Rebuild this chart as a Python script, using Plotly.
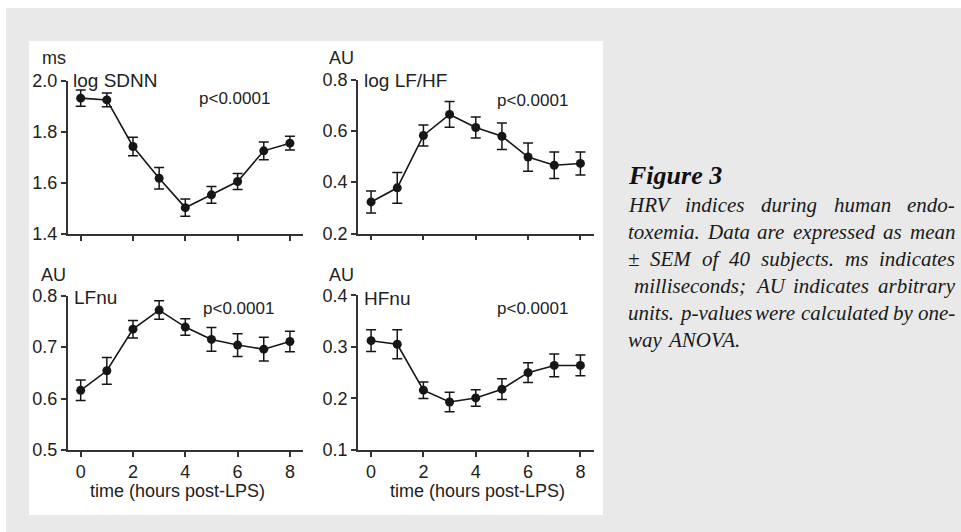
import plotly.graph_objects as go

# ---------------- data ----------------
hours = [0, 1, 2, 3, 4, 5, 6, 7, 8]

sdnn_mean = [1.931, 1.924, 1.742, 1.618, 1.503, 1.553, 1.605, 1.725, 1.755]
sdnn_sem = [0.032, 0.027, 0.036, 0.042, 0.034, 0.033, 0.031, 0.035, 0.027]

lfhf_mean = [0.323, 0.378, 0.582, 0.664, 0.613, 0.579, 0.498, 0.466, 0.473]
lfhf_sem = [0.043, 0.060, 0.041, 0.050, 0.041, 0.052, 0.055, 0.052, 0.045]

lfnu_mean = [0.616, 0.654, 0.735, 0.772, 0.739, 0.715, 0.704, 0.696, 0.711]
lfnu_sem = [0.020, 0.026, 0.017, 0.018, 0.016, 0.023, 0.022, 0.023, 0.020]

hfnu_mean = [0.312, 0.305, 0.216, 0.193, 0.201, 0.218, 0.250, 0.264, 0.264]
hfnu_sem = [0.021, 0.028, 0.016, 0.019, 0.016, 0.020, 0.019, 0.022, 0.020]

panel_names = ["log SDNN", "log LF/HF", "LFnu", "HFnu"]
panel_units = ["ms", "AU", "AU", "AU"]
p_text = "p<0.0001"
y_ticks = [[1.4, 1.6, 1.8, 2.0], [0.2, 0.4, 0.6, 0.8], [0.5, 0.6, 0.7, 0.8], [0.1, 0.2, 0.3, 0.4]]
x_ticks = [0, 2, 4, 6, 8]
x_title = "time (hours post-LPS)"

caption_title = "Figure 3"
caption_lines = [
    ["HRV", "indices", "during", "human", "endo-"],
    ["toxemia.", "Data", "are", "expressed", "as", "mean"],
    ["±", "SEM", "of", "40", "subjects.", "ms", "indicates"],
    ["milliseconds;", "AU", "indicates", "arbitrary"],
    ["units.", "p-values", "were", "calculated", "by", "one-"],
    ["way", "ANOVA."],
]

# ---------------- layout helpers ----------------
W, H = 961, 532


def px(x):
    return x / W


def py(y):
    return 1 - y / H


INK = "#161616"
AXC = "#333333"
TXT = "#222222"
SANS = "Liberation Sans, Arial, sans-serif"
SERIF = "Liberation Serif, Times New Roman, serif"

means = [sdnn_mean, lfhf_mean, lfnu_mean, hfnu_mean]
sems = [sdnn_sem, lfhf_sem, lfnu_sem, hfnu_sem]

# panel pixel boxes: (x_left, x_right, y_top, y_bottom)
boxes = [
    (67.6, 303.0, 80.5, 234.0),
    (358.0, 593.5, 79.5, 233.5),
    (67.6, 303.0, 295.7, 450.0),
    (358.0, 593.5, 295.3, 450.0),
]

fig = go.Figure()
layout = {}
for i in range(4):
    s = "" if i == 0 else str(i + 1)
    fig.add_trace(go.Scatter(
        x=hours, y=means[i],
        mode="lines+markers",
        line=dict(color=INK, width=1.6),
        marker=dict(color=INK, size=9),
        error_y=dict(type="data", array=sems[i], visible=True,
                     color=INK, thickness=1.5, width=5),
        xaxis="x" + s, yaxis="y" + s, showlegend=False,
        hoverinfo="x+y",
    ))
    xl, xr, yt, yb = boxes[i]
    layout["xaxis" + s] = dict(
        domain=[px(xl), px(xr)], anchor="y" + s, range=[-0.5, 8.5],
        tickvals=x_ticks, showticklabels=(i >= 2), automargin=False,
        showline=True, linecolor=AXC, linewidth=1.5,
        ticks="outside", ticklen=5, tickwidth=1.5, tickcolor=AXC,
        showgrid=False, zeroline=False,
        tickfont=dict(family=SANS, size=18, color=TXT),
    )
    yt_vals = y_ticks[i]
    layout["yaxis" + s] = dict(
        domain=[py(yb), py(yt)], anchor="x" + s, automargin=False,
        range=[yt_vals[0], yt_vals[-1]],
        tickvals=yt_vals, ticktext=["%.1f" % v for v in yt_vals],
        showline=True, linecolor=AXC, linewidth=1.5,
        ticks="outside", ticklen=5, tickwidth=1.5, tickcolor=AXC,
        showgrid=False, zeroline=False,
        tickfont=dict(family=SANS, size=18, color=TXT),
    )

annotations = []


def add_text(text, x, y, size, xanchor="left", family=SANS, color=TXT):
    annotations.append(dict(
        text=text, x=px(x), y=py(y), xref="paper", yref="paper",
        xanchor=xanchor, yanchor="middle", showarrow=False,
        font=dict(family=family, size=size, color=color),
    ))


# panel labels, p-values, units
name_pos = [(71, 81), (362, 81), (72, 297), (362, 298)]
p_pos = [(197, 99), (495, 100), (201, 308), (495, 308)]
unit_pos = [(40, 58), (327, 58), (39, 275), (327, 275)]
for i in range(4):
    add_text(panel_names[i], *name_pos[i], 19)
    add_text(p_text, *p_pos[i], 17)
    add_text(panel_units[i], *unit_pos[i], 18)

add_text(x_title, 177, 491, 18, xanchor="center")
add_text(x_title, 477, 491, 18, xanchor="center")

# ---------------- caption (justified, Times-italic metrics) ----------------
TI = {
    'a': .5, 'b': .5, 'c': .444, 'd': .5, 'e': .444, 'f': .278, 'g': .5, 'h': .5,
    'i': .278, 'j': .278, 'k': .444, 'l': .278, 'm': .722, 'n': .5, 'o': .5, 'p': .5,
    'q': .5, 'r': .389, 's': .389, 't': .278, 'u': .5, 'v': .444, 'w': .667, 'x': .444,
    'y': .444, 'z': .389, 'A': .611, 'D': .722, 'E': .611, 'H': .722, 'M': .833,
    'N': .667, 'O': .722, 'R': .611, 'S': .5, 'U': .722, 'V': .611, '0': .5, '4': .5,
    '.': .25, ',': .25, ';': .333, '-': .333, '±': .549,
}
CAP_SIZE = 21
CAP_LEFT, CAP_RIGHT = 626, 953
line_y = [205, 231.7, 259, 286, 312.7, 340]
line_left = [626, 626, 626, 631.7, 626, 626]


def word_w(w):
    return sum(TI.get(c, .5) for c in w) * CAP_SIZE


add_text("<b><i>" + caption_title + "</i></b>", 626, 175, 26, family=SERIF, color="#111111")
for li, words in enumerate(caption_lines):
    widths = [word_w(w) for w in words]
    if li < len(caption_lines) - 1:
        gap = (CAP_RIGHT - line_left[li] - sum(widths)) / (len(words) - 1)
    else:
        gap = 0.25 * CAP_SIZE
    x = line_left[li]
    for w, ww in zip(words, widths):
        add_text("<i>" + w + "</i>", x, line_y[li], CAP_SIZE, family=SERIF, color="#1a1a1a")
        x += ww + gap

shapes = [
    dict(type="rect", xref="paper", yref="paper", x0=px(6), x1=1, y0=0, y1=py(8),
         fillcolor="#e8e9e8", line=dict(width=0), layer="below"),
    dict(type="rect", xref="paper", yref="paper", x0=px(29), x1=px(603), y0=py(515), y1=py(41),
         fillcolor="white", line=dict(width=0), layer="below"),
]

fig.update_layout(
    width=W, height=H,
    margin=dict(l=0, r=0, t=0, b=0, pad=0, autoexpand=False),
    paper_bgcolor="white", plot_bgcolor="rgba(0,0,0,0)",
    annotations=annotations, shapes=shapes,
    showlegend=False,
    **layout,
)

fig.write_html("out.html",
               post_script="document.body.style.margin='0px';document.body.style.overflow='hidden';")
